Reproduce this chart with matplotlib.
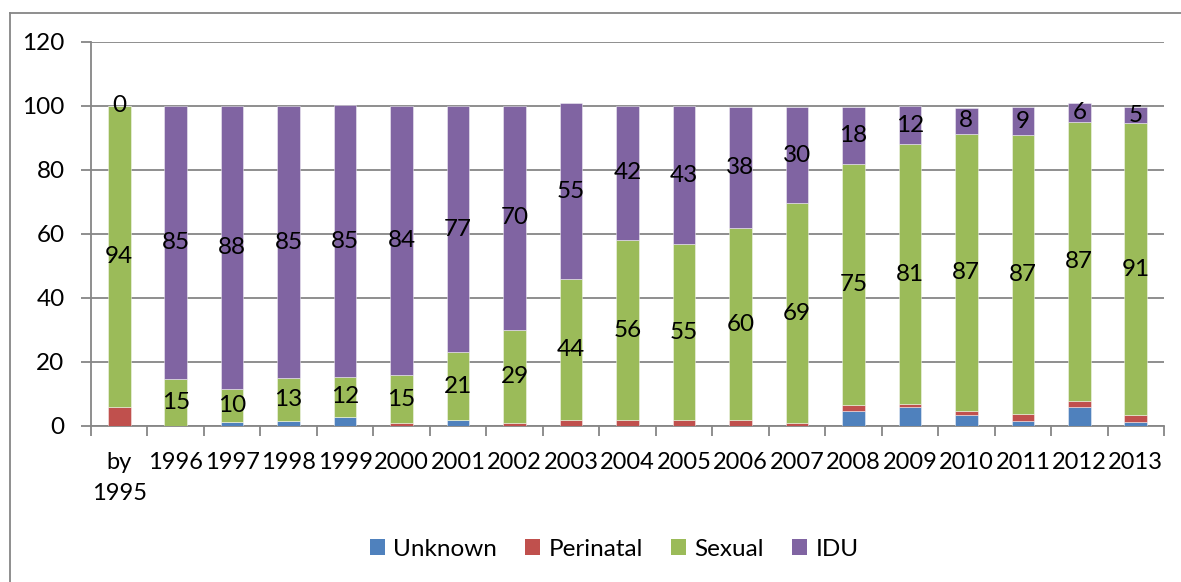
import matplotlib
matplotlib.use("Agg")
import matplotlib.pyplot as plt
import numpy as np
from matplotlib.lines import Line2D

plt.rcParams['font.family'] = ['Lato', 'DejaVu Sans']

categories = ["by\n1995", "1996", "1997", "1998", "1999", "2000", "2001", "2002", "2003",
              "2004", "2005", "2006", "2007", "2008", "2009", "2010", "2011", "2012", "2013"]
unknown = [0, 0, 1.3, 1.5, 2.9, 0, 1.8, 0, 0, 0, 0, 0, 0, 4.6, 5.9, 3.5, 1.6, 5.9, 1.2]
perinatal = [5.9, 0, 0, 0, 0, 0.8, 0, 0.8, 1.8, 1.8, 1.8, 1.8, 0.8, 2.0, 0.9, 1.1, 2.1, 1.9, 2.2]
sexual = [94.1, 14.6, 10.4, 13.4, 12.4, 15.2, 21.2, 29.3, 44, 56.3, 55.1, 60, 68.8, 75.2, 81.2, 86.8, 87.1, 87.2, 91.2]
idu = [0, 85.4, 88.3, 85.1, 85, 84, 77, 70, 55, 42, 43, 38, 30, 18, 12, 8, 9, 6, 5]
series_names = ["Unknown", "Perinatal", "Sexual", "IDU"]
colors = ["#4F81BD", "#C0504D", "#9BBB59", "#8064A2"]
yticks = [0, 20, 40, 60, 80, 100, 120]

FS = 17.5
FSX = 17
grid_c = "#868686"

fig = plt.figure(figsize=(11.81, 5.82), dpi=100)
ax = fig.add_axes([91/1181, 1-426/582, (1164-91)/1181, (426-42)/582])

x = np.arange(len(categories))
w = 0.4
bottom = np.zeros(len(categories))
series = [unknown, perinatal, sexual, idu]
for name, vals, c in zip(series_names, series, colors):
    vals = np.array(vals, dtype=float)
    ax.bar(x, vals, w, bottom=bottom, color=c, label=name,
           edgecolor=(1, 1, 1, 0.5), linewidth=0.6, zorder=3)
    if name in ("Sexual", "IDU"):
        for xi, b, v in zip(x, bottom, vals):
            ax.text(xi, b + v/2, f"{int(round(v))}", ha="center", va="center",
                    fontsize=FS, color="black", zorder=5)
    bottom = bottom + vals

ax.set_xlim(-0.5, len(categories) - 0.5)
ax.set_ylim(0, 120)
ax.set_yticks(yticks)
ax.set_yticklabels([str(t) for t in yticks], fontsize=FS)
ax.yaxis.grid(True, color=grid_c, linewidth=1.3, zorder=0)
ax.set_axisbelow(True)

ax.set_xticks(x)
ax.set_xticklabels(categories, fontsize=FSX, linespacing=1.55)
ax.set_xticks(np.arange(len(categories) + 1) - 0.5, minor=True)
ax.tick_params(axis="x", which="major", length=0, pad=19)
ax.tick_params(axis="x", which="minor", length=7, width=1.3, color=grid_c)
ax.tick_params(axis="y", length=7, width=1.3, color=grid_c, pad=12)

for s in ("top", "right"):
    ax.spines[s].set_visible(False)
for s in ("left", "bottom"):
    ax.spines[s].set_color(grid_c)
    ax.spines[s].set_linewidth(1.3)

leg = fig.legend(loc="center", bbox_to_anchor=(0.52, 1-549/582), ncol=4,
                 frameon=False, fontsize=FS, handlelength=0.62, handleheight=0.62,
                 handletextpad=0.35, columnspacing=1.15)
for h in leg.legend_handles:
    h.set_edgecolor("none")

# outer chart frame (left and top visible)
fig.add_artist(Line2D([10/1181, 10/1181], [0, 1-13/582], transform=fig.transFigure,
                      color=grid_c, linewidth=1.3))
fig.add_artist(Line2D([10/1181, 1], [1-13/582, 1-13/582], transform=fig.transFigure,
                      color=grid_c, linewidth=1.3))

fig.savefig("out.png", dpi=100)
